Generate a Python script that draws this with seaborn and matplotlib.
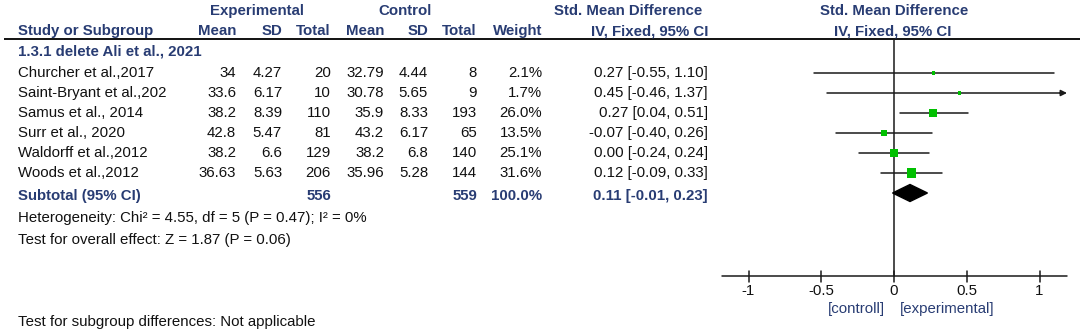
import matplotlib
matplotlib.use("Agg")
import matplotlib.pyplot as plt
import seaborn as sns
import pandas as pd

# ---------------- data ----------------
studies = ["Churcher et al.,2017", "Saint-Bryant et al.,202", "Samus et al., 2014",
           "Surr et al., 2020", "Waldorff et al.,2012", "Woods et al.,2012"]
exp_mean = [34, 33.6, 38.2, 42.8, 38.2, 36.63]
exp_sd = [4.27, 6.17, 8.39, 5.47, 6.6, 5.63]
exp_n = [20, 10, 110, 81, 129, 206]
ctl_mean = [32.79, 30.78, 35.9, 43.2, 38.2, 35.96]
ctl_sd = [4.44, 5.65, 8.33, 6.17, 6.8, 5.28]
ctl_n = [8, 9, 193, 65, 140, 144]
weight = [2.1, 1.7, 26.0, 13.5, 25.1, 31.6]
smd = [0.27, 0.45, 0.27, -0.07, 0.00, 0.12]
ci_lo = [-0.55, -0.46, 0.04, -0.40, -0.24, -0.09]
ci_hi = [1.10, 1.37, 0.51, 0.26, 0.24, 0.33]

subgroup = "1.3.1 delete Ali et al., 2021"
total_exp = 556
total_ctl = 559
total_weight = 100.0
pooled = 0.11
pooled_lo = -0.01
pooled_hi = 0.23
heterogeneity = "Heterogeneity: Chi\u00b2 = 4.55, df = 5 (P = 0.47); I\u00b2 = 0%"
overall = "Test for overall effect: Z = 1.87 (P = 0.06)"
subgroup_diff = "Test for subgroup differences: Not applicable"
xticks = [-1, -0.5, 0, 0.5, 1]
xtick_labels = ["-1", "-0.5", "0", "0.5", "1"]
favours = ["[controll]", "[experimental]"]

# ---------------- style ----------------
sns.set_theme(style="white")
plt.rcParams["font.family"] = ["Liberation Sans", "DejaVu Sans"]

W, H = 1084, 332
fig = plt.figure(figsize=(W / 100, H / 100), dpi=100)
fig.patch.set_facecolor("white")

ax_t = fig.add_axes([0, 0, 1, 1])
ax_t.set_xlim(0, W)
ax_t.set_ylim(H, 0)
ax_t.axis("off")

x0_px, unit_px = 894, 145.5
ax_f = fig.add_axes([700 / W, 0, (W - 700) / W, 1])
ax_f.patch.set_alpha(0)

FS = 10.8
HEAD = "#283C73"
TXT = "#111111"

# column right edges (px)
col_exp_m, col_exp_sd, col_exp_n = 236, 282, 331
col_ctl_m, col_ctl_sd, col_ctl_n = 384, 428, 477
col_w, col_ci = 542, 708
x_name = 18

def t(x, y, s, ha="right", bold=False, color=TXT, ax=ax_t):
    ax.text(x, y, s, ha=ha, va="center", fontsize=FS,
            fontweight="bold" if bold else "normal", color=color)

# header
t(257, 11, "Experimental", ha="center", bold=True, color=HEAD)
t(405, 11, "Control", ha="center", bold=True, color=HEAD)
t(702, 11, "Std. Mean Difference", bold=True, color=HEAD)
t(894, 11, "Std. Mean Difference", ha="center", bold=True, color=HEAD)
hy = 31
t(x_name, hy, "Study or Subgroup", ha="left", bold=True, color=HEAD)
for x, lab in [(col_exp_m, "Mean"), (col_exp_sd, "SD"), (col_exp_n, "Total"),
               (col_ctl_m, "Mean"), (col_ctl_sd, "SD"), (col_ctl_n, "Total"),
               (col_w, "Weight"), (col_ci, "IV, Fixed, 95% CI")]:
    t(x, hy, lab, bold=True, color=HEAD)
t(893, hy, "IV, Fixed, 95% CI", ha="center", bold=True, color=HEAD)
ax_t.plot([4, 1080], [39, 39], color="#111111", lw=1.4, solid_capstyle="butt")

t(x_name, 52, subgroup, ha="left", bold=True, color=HEAD)

row0, step = 73, 20
rows_y = [row0 + step * i for i in range(len(studies))]
for i, y in enumerate(rows_y):
    t(x_name, y, studies[i], ha="left")
    t(col_exp_m, y, f"{exp_mean[i]:g}")
    t(col_exp_sd, y, f"{exp_sd[i]:g}")
    t(col_exp_n, y, f"{exp_n[i]}")
    t(col_ctl_m, y, f"{ctl_mean[i]:g}")
    t(col_ctl_sd, y, f"{ctl_sd[i]:g}")
    t(col_ctl_n, y, f"{ctl_n[i]}")
    t(col_w, y, f"{weight[i]:.1f}%")
    t(col_ci, y, f"{smd[i]:.2f} [{ci_lo[i]:.2f}, {ci_hi[i]:.2f}]")

ys = rows_y[-1] + 23
t(x_name, ys, "Subtotal (95% CI)", ha="left", bold=True, color=HEAD)
t(col_exp_n, ys, f"{total_exp}", bold=True, color=HEAD)
t(col_ctl_n, ys, f"{total_ctl}", bold=True, color=HEAD)
t(col_w, ys, f"{total_weight:.1f}%", bold=True, color=HEAD)
t(col_ci, ys, f"{pooled:.2f} [{pooled_lo:.2f}, {pooled_hi:.2f}]", bold=True, color=HEAD)
t(x_name, 218, heterogeneity, ha="left")
t(x_name, 240, overall, ha="left")
t(x_name, 322, subgroup_diff, ha="left")

# ---------------- forest ----------------
axis_y = 276
xmin_ax, xmax_ax = (722 - x0_px) / unit_px, (1067 - x0_px) / unit_px
LINE = "#1a1a1a"

df = pd.DataFrame({"smd": smd, "y": rows_y, "weight": weight})
sns.scatterplot(data=df, x="smd", y="y", size="weight", sizes=(6, 42),
                size_norm=(min(weight), max(weight)), marker="s", color="#00C000", linewidth=0,
                legend=False, ax=ax_f, zorder=3)
ax_f.set_xlim((700 - x0_px) / unit_px, (W - x0_px) / unit_px)
ax_f.set_ylim(H, 0)
ax_f.axis("off")

ax_f.plot([0, 0], [40, axis_y], color=LINE, lw=1.1)
ax_f.plot([xmin_ax, xmax_ax], [axis_y, axis_y], color=LINE, lw=1.1)
for tk, lab in zip(xticks, xtick_labels):
    ax_f.plot([tk, tk], [axis_y - 5, axis_y + 6], color=LINE, lw=1.1)
    t(tk, 291, lab, ha="center", ax=ax_f)
t(-0.062, 309, favours[0], ha="right", color=HEAD, ax=ax_f)
t(0.041, 309, favours[1], ha="left", color=HEAD, ax=ax_f)

for i, y in enumerate(rows_y):
    lo = max(ci_lo[i], xmin_ax)
    hi = ci_hi[i]
    if hi > xmax_ax:
        ax_f.plot([lo, xmax_ax - 0.03], [y, y], color=LINE, lw=1.1)
        ax_f.annotate("", xy=(xmax_ax, y), xytext=(xmax_ax - 0.05, y),
                      arrowprops=dict(arrowstyle="-|>", color=LINE, lw=1.1, mutation_scale=9,
                                      shrinkA=0, shrinkB=0))
    else:
        ax_f.plot([lo, hi], [y, y], color=LINE, lw=1.1)

yd, dy = ys - 3, 8.5
ax_f.fill([pooled_lo, pooled, pooled_hi, pooled], [yd, yd - dy, yd, yd + dy], color="black", zorder=3)

fig.savefig("out.png", dpi=100, facecolor="white")
